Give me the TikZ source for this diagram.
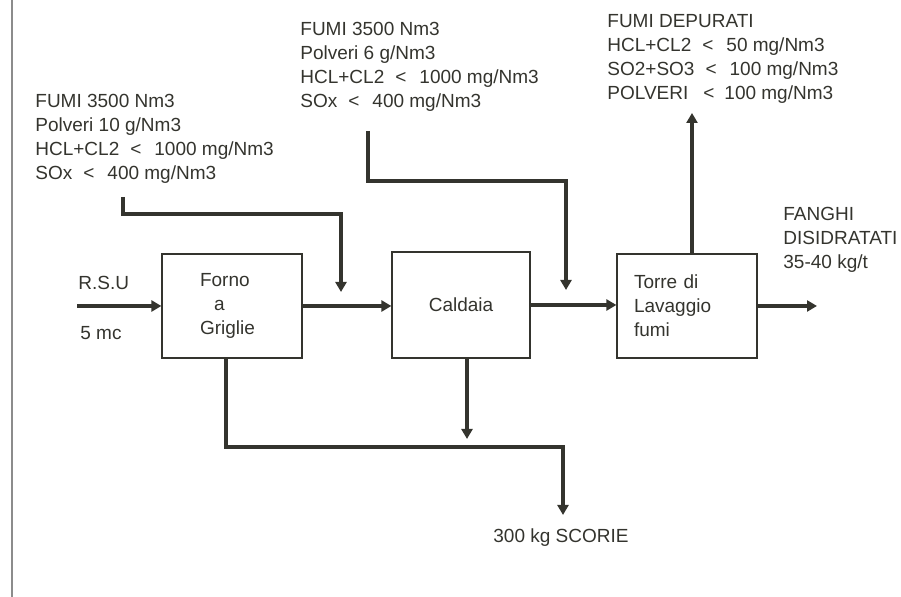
\documentclass[tikz,border=0pt]{standalone}
\usepackage{fontspec}
\setmainfont{Liberation Sans}
\usetikzlibrary{arrows.meta}
\definecolor{inchiostro}{RGB}{52,52,46}
\newcommand{\minore}{\hspace{5.5pt}{<}\hspace{6.5pt}}

\begin{document}
\begin{tikzpicture}[x=0.5pt,y=-0.5pt,
    blocco/.style={draw=inchiostro,line width=0.6pt,text=inchiostro,
      font=\fontsize{9.5}{12}\selectfont,minimum height=52pt},
    flusso/.style={draw=inchiostro,line width=1.8pt,
      -{Triangle[length=5pt,width=5.5pt]}},
    testo/.style={text=inchiostro,font=\fontsize{9.5}{12}\selectfont,
      align=left,inner sep=0pt}]
  \useasboundingbox (0,0) rectangle (901,597);
  % bordo della scansione
  \draw[black!45,line width=0.8pt] (12,0) -- (12,597);

  % Blocchi
  \node[blocco,align=left,text width=32pt,inner xsep=19pt] (forno) at (232,306)
    {Forno\\ \hspace*{7pt}a\\ Griglie};
  \node[blocco,minimum width=69pt,minimum height=53pt] (caldaia) at (461,305) {Caldaia};
  \node[blocco,align=left,text width=53pt,inner xsep=8.5pt] (torre) at (687,306)
    {Torre di\\ Lavaggio\\ fumi};

  % Ingresso R.S.U
  \coordinate (rsu) at (77,306);
  \node[testo,anchor=west] (rsunome) at (78,283) {R.S.U};
  \node[testo,anchor=west] (rsuqta) at (80,333) {5 mc};
  \draw[flusso] (rsu) -- (forno.west);

  % Linea principale dei fumi
  \draw[flusso] (forno.east) -- (forno.east -| caldaia.west);
  \draw[flusso] (caldaia.east) -- (caldaia.east -| torre.west);
  \coordinate (fanghi) at (817,304);
  \draw[flusso] (torre.east) -- (torre.east -| fanghi);

  % Dati fumi all'uscita del forno
  \node[testo,anchor=north west] (fumi1) at (35,94)
    {FUMI 3500 Nm3\\ Polveri 10 g/Nm3\\ HCL+CL2\minore 1000 mg/Nm3\\ SOx\minore 400 mg/Nm3};
  \coordinate (da1) at (123,197);
  \coordinate (a1) at (341,292);
  \draw[flusso] (da1) |- (341,214) -- (a1);

  % Dati fumi all'uscita della caldaia
  \node[testo,anchor=north west] (fumi2) at (300,22)
    {FUMI 3500 Nm3\\ Polveri 6 g/Nm3\\ HCL+CL2\minore 1000 mg/Nm3\\ SOx\minore 400 mg/Nm3};
  \coordinate (da2) at (368,131);
  \coordinate (a2) at (566,290);
  \draw[flusso] (da2) |- (566,181) -- (a2);

  % Fumi depurati
  \node[testo,anchor=north west] (depurati) at (607,14)
    {FUMI DEPURATI\\ HCL+CL2\minore 50 mg/Nm3\\ SO2+SO3\minore 100 mg/Nm3\\ POLVERI\hspace{7.5pt}{<}\hspace{5pt}100 mg/Nm3};
  \coordinate (camino) at (692,113);
  \draw[flusso] (torre.north -| camino) -- (camino);

  % Fanghi
  \node[testo,anchor=north west] (fanghinome) at (783,207)
    {FANGHI\\ DISIDRATATI\\ 35-40 kg/t};

  % Scorie
  \coordinate (giunto) at (226,447);
  \coordinate (scorie) at (563,515);
  \coordinate (cenere) at (467,439);
  \draw[flusso] (forno.south -| giunto) -- (giunto) -| (scorie);
  \draw[flusso] (caldaia.south -| cenere) -- (cenere);
  \node[testo] (scorienome) at (561,538) {300 kg SCORIE};
\end{tikzpicture}
\end{document}
